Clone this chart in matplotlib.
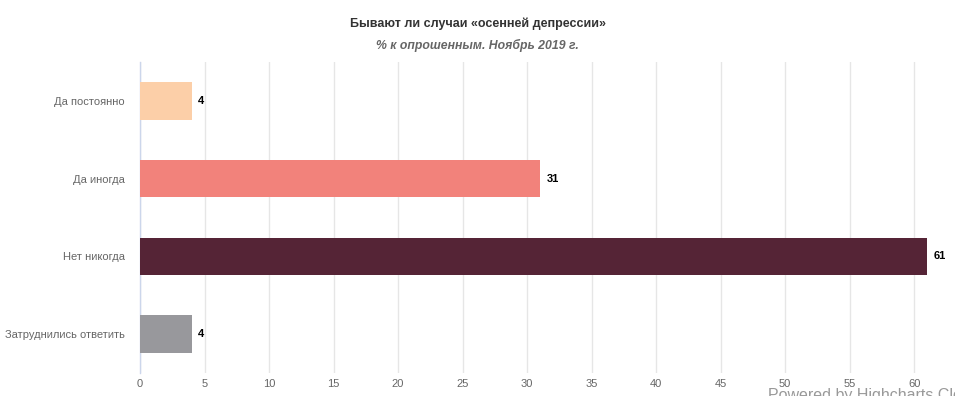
import matplotlib
matplotlib.use("Agg")
import matplotlib.pyplot as plt

plt.rcParams["font.family"] = ["Liberation Sans", "DejaVu Sans"]

categories = ["Да постоянно", "Да иногда", "Нет никогда", "Затруднились ответить"]
values = [4, 31, 61, 4]
colors = ["#fccfa8", "#f2827b", "#552436", "#98989c"]
xticks = list(range(0, 61, 5))

fig = plt.figure(figsize=(9.55, 3.96), dpi=100)
ax = fig.add_axes([140 / 955, 23 / 396, 800 / 955, 311 / 396])

y = list(range(len(categories)))
bars = ax.barh(y, values, height=0.48, color=colors, zorder=3)
for bar, v in zip(bars, values):
    ax.text(bar.get_width() + 0.5, bar.get_y() + bar.get_height() / 2, str(v),
            ha="left", va="center", fontsize=8, fontweight="bold", color="#000000")

ax.set_xlim(0, 62)
ax.set_ylim(len(categories) - 0.5, -0.5)
ax.set_yticks(y)
ax.set_yticklabels(categories, fontsize=8, color="#666666")
ax.set_xticks(xticks)
ax.set_xticklabels([str(t) for t in xticks], fontsize=8, color="#666666")
ax.tick_params(axis="both", length=0)
ax.tick_params(axis="y", pad=11)
ax.tick_params(axis="x", pad=4)
ax.grid(axis="x", color="#e6e6e6", linewidth=1, zorder=0)
for side in ["top", "right", "bottom"]:
    ax.spines[side].set_visible(False)
ax.spines["left"].set_color("#ccd6eb")
ax.spines["left"].set_linewidth(1)

fig.text(0.5, 1 - 24 / 396, "Бывают ли случаи «осенней депрессии»", ha="center", va="center",
         fontsize=9, fontweight="bold", color="#333333")
fig.text(0.5, 1 - 45 / 396, "% к опрошенным. Ноябрь 2019 г.", ha="center", va="center",
         fontsize=8.8, style="italic", fontweight="bold", color="#666666")
fig.text(768 / 955, 1 - 388 / 396, "Powered by Highcharts Cloud", ha="left", va="top",
         fontsize=11.5, color="#999999")

fig.savefig("out.png", dpi=100)
